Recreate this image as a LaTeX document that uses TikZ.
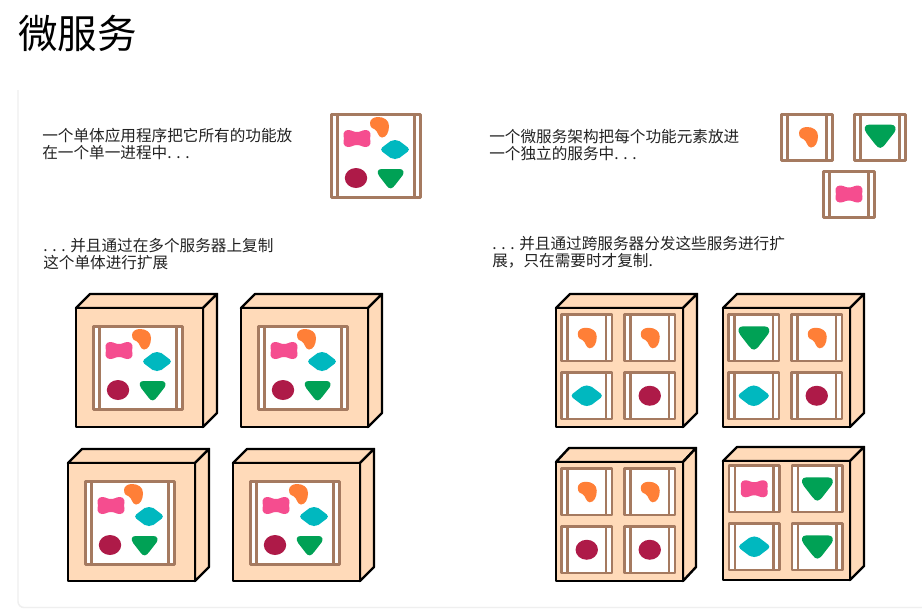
\documentclass[tikz,border=0pt]{standalone}
\usepackage{fontspec}
\setmainfont{Noto Sans CJK SC}
\definecolor{cOrange}{HTML}{FF7F37}
\definecolor{cPink}{HTML}{F54D8F}
\definecolor{cCyan}{HTML}{00B8BF}
\definecolor{cCrimson}{HTML}{AE1A48}
\definecolor{cGreen}{HTML}{00A155}
\definecolor{cBox}{HTML}{FFDAB9}
\definecolor{cFrame}{HTML}{A57A60}
\definecolor{cCard}{HTML}{EFEFEF}
\definecolor{cText}{HTML}{222222}
\tikzset{
  body/.style={anchor=west,inner sep=0pt,font=\fontsize{11.72pt}{12.75pt}\selectfont,text=cText,align=left},
  frameline/.style={draw=cFrame,line width=2.2pt,line join=round},
  faceline/.style={draw=black,line width=1.8pt,fill=cBox,line join=round},
}
\newcommand\blobO[3]{\fill[cOrange,shift={(#1,#2)},scale=#3] (-9,-4) .. controls (-9,-8) and (-5,-10) .. (-1,-10) .. controls (5,-10) and (10,-7) .. (10,-1) .. controls (10,5) and (7.5,10.5) .. (3,10.5) .. controls (-1,10.5) and (-1,4) .. (-4,2.5) .. controls (-6,1.5) and (-9,1) .. (-9,-4) -- cycle;}
\newcommand\blobP[3]{\fill[cPink,shift={(#1,#2)},scale=#3] (-9,-8.5) .. controls (-5,-8.5) and (-4,-6.5) .. (0,-6.5) .. controls (4,-6.5) and (5,-8.5) .. (9,-8.5) .. controls (14,-8.5) and (14,-3) .. (13,0) .. controls (14,3) and (14,8.5) .. (9,8.5) .. controls (5,8.5) and (4,6.5) .. (0,6.5) .. controls (-4,6.5) and (-5,8.5) .. (-9,8.5) .. controls (-14,8.5) and (-14,3) .. (-13,0) .. controls (-14,-3) and (-14,-8.5) .. (-9,-8.5) -- cycle;}
\newcommand\blobC[3]{\fill[cCyan,shift={(#1,#2)},scale=#3,rounded corners=2.6pt] (-15.5,0) -- (-7,-6.5) -- (-3,-9.5) -- (3,-9.5) -- (7,-6.5) -- (15.5,0) -- (7,6.5) -- (3,9.5) -- (-3,9.5) -- (-7,6.5) -- cycle;}
\newcommand\blobR[3]{\fill[cCrimson,shift={(#1,#2)},scale=#3] (0,0) ellipse [x radius=11.2,y radius=10];}
\newcommand\blobG[3]{\fill[cGreen,shift={(#1,#2)},scale=#3] (-9,-9.5) -- (9,-9.5) .. controls (13,-9.5) and (14,-6) .. (12,-3) -- (5,6) .. controls (1.5,11) and (-1,11) .. (-4,7) -- (-11,-2) .. controls (-14,-6) and (-13,-9.5) .. (-9,-9.5) -- cycle;}
% x, y, w, h, inset of the inner bars
\newcommand\barframe[5]{%
  \fill[white] (#1,#2) rectangle ++(#3,#4);
  \draw[frameline] (#1,#2) rectangle ++(#3,#4);
  \draw[frameline] ({#1+#5},#2) -- ++(0,#4);
  \draw[frameline] ({#1+#3-#5},#2) -- ++(0,#4);}
\newcommand\mono[2]{%
  \begin{scope}[shift={(#1,#2)}]
    \barframe{1.5}{1.5}{89}{83}{6}
    \blobP{27}{25.5}{1}
    \blobO{49}{14}{1}
    \blobC{65}{36.5}{1}
    \blobR{26}{65}{1}
    \blobG{60.5}{65.5}{1}
  \end{scope}}
% x, y, w, h, depth
\newcommand\server[5]{%
  \draw[faceline] (#1,#2) -- ++(#5,-14) -- ++(#3,0) -- ++(-#5,14) -- cycle;
  \draw[faceline] ({#1+#3},#2) -- ++(#5,-14) -- ++(0,#4) -- ++(-#5,14) -- cycle;
  \draw[faceline] (#1,#2) rectangle ++(#3,#4);}
\newcommand\cell[3]{%
  \barframe{#1+1.5}{#2+1.5}{50.5}{46.5}{6}
  \csname blob#3\endcsname{#1+26.75}{#2+24.75}{\csname blobscale#3\endcsname}}
\newcommand\blobscaleO{1}
\newcommand\blobscaleP{1}
\newcommand\blobscaleC{1.08}
\newcommand\blobscaleR{1}
\newcommand\blobscaleG{1.2}
\newcommand\grid[6]{%
  \cell{#1+4}{#2+5}{#3}
  \cell{#1+67}{#2+5}{#4}
  \cell{#1+4}{#2+63}{#5}
  \cell{#1+67}{#2+63}{#6}}
\begin{document}
\begin{tikzpicture}[x=0.75pt,y=-0.75pt]
\useasboundingbox (0,0) rectangle (922,611);
\fill[white] (0,0) rectangle (922,611);
% card
\draw[cCard,line width=1.1pt] (922,607.5) -- (24,607.5) arc[start angle=90,end angle=180,radius=6] -- (18,90);
% title
\node[anchor=west,inner sep=0pt,font=\fontsize{29.7pt}{31pt}\selectfont,text=black] (title) at (18,33) {微服务};
% texts
\node[body] (t1) at (42,144) {一个单体应用程序把它所有的功能放\\在一个单一进程中. . .};
\node[body] (t2) at (489,145.5) {一个微服务架构把每个功能元素放进\\一个独立的服务中. . .};
\node[body] (t3) at (43,254) {. . . 并且通过在多个服务器上复制\\这个单体进行扩展};
\node[body] (t4) at (492,252.5) {. . . 并且通过跨服务器分发这些服务进行扩\\展，只在需要时才复制.};
% top row
\mono{330}{113}
\barframe{781.5}{114.5}{51}{46}{6}  \blobO{808}{137}{1}
\barframe{854.5}{114.5}{51}{46}{6}  \blobG{880}{136}{1.2}
\barframe{823.5}{171.5}{51}{46}{6}  \blobP{849}{194}{1}
% left servers
\server{76}{308}{127}{119}{14}   \mono{92}{325}
\server{241}{308}{127}{119}{14}  \mono{257}{325}
\server{68}{463}{127}{118}{14}   \mono{84}{480}
\server{233}{463}{127}{118}{14}  \mono{249}{480}
% right servers
\server{556}{308}{127}{119}{14}  \grid{556}{308}{O}{O}{C}{R}
\server{723}{308}{127}{119}{14}  \grid{723}{308}{G}{O}{C}{R}
\server{556}{462}{127}{119}{13}  \grid{556}{462}{O}{O}{R}{R}
\server{723}{461}{127}{119}{14}  \grid{723.5}{459}{P}{G}{C}{G}
\end{tikzpicture}
\end{document}
